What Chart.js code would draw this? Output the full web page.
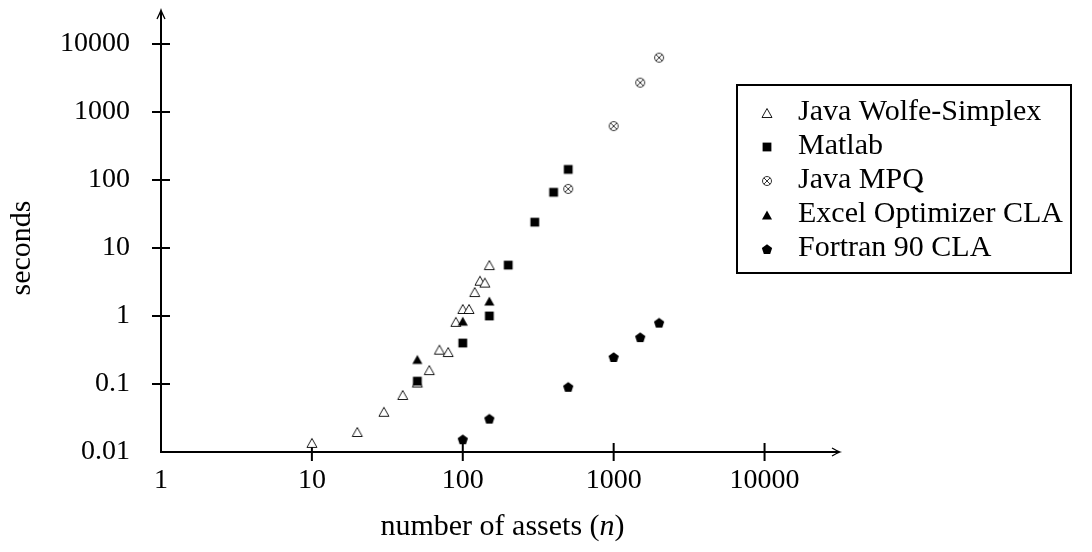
<!DOCTYPE html>
<html>
<head>
<meta charset="utf-8">
<script src="https://cdn.jsdelivr.net/npm/chart.js@4.4.1/dist/chart.umd.min.js"></script>
<style>
  html, body { margin: 0; padding: 0; background: #fff; }
  #wrap { width: 1092px; height: 552px; }
</style>
</head>
<body>
<div id="wrap"><canvas id="timingChart"></canvas></div>
<script>
// axis ticks
const xTicks = [1, 10, 100, 1000, 10000];
const yTicks = [0.01, 0.1, 1, 10, 100, 1000, 10000];

// run times in seconds against number of assets
const wolfeN = [10, 20, 30, 40, 50, 60, 70, 80, 90, 100, 110, 120, 130, 140, 150];
const wolfeSec = [0.0136, 0.0197, 0.039, 0.069, 0.105, 0.16, 0.32, 0.295, 0.82, 1.27, 1.27, 2.25, 3.3, 3.1, 5.6];

const matlabN = [50, 100, 150, 200, 300, 400, 500];
const matlabSec = [0.11, 0.40, 1.0, 5.6, 24, 66, 143];

const mpqN = [500, 1000, 1500, 2000];
const mpqSec = [74, 620, 2700, 6300];

const excelN = [50, 100, 150];
const excelSec = [0.23, 0.84, 1.66];

const fortranN = [100, 150, 500, 1000, 1500, 2000];
const fortranSec = [0.0154, 0.031, 0.091, 0.25, 0.49, 0.80];

const seriesNames = ['Java Wolfe-Simplex', 'Matlab', 'Java MPQ', 'Excel Optimizer CLA', 'Fortran 90 CLA'];

// markers as small canvases, used for points and legend
function marker(kind) {
    const c = document.createElement('canvas');
    c.width = 14; c.height = 14;
    const g = c.getContext('2d');
    const m = 7;
    g.fillStyle = '#000';
    g.strokeStyle = '#000';
    g.lineWidth = 1;
    g.beginPath();
    if (kind === 'openTri' || kind === 'tri') {
        g.moveTo(m, m - 4.5);
        g.lineTo(m + 5, m + 4.5);
        g.lineTo(m - 5, m + 4.5);
        g.closePath();
        if (kind === 'openTri') {
            g.fillStyle = '#fff';
            g.fill();
            g.lineWidth = 0.9;
            g.stroke();
        } else {
            g.fill();
        }
    } else if (kind === 'square') {
        g.rect(m - 4.4, m - 4.4, 8.8, 8.8);
        g.fill();
    } else if (kind === 'otimes') {
        g.strokeStyle = '#333';
        g.arc(m, m, 4.5, 0, Math.PI * 2);
        const d = 3.2;
        g.moveTo(m - d, m - d); g.lineTo(m + d, m + d);
        g.moveTo(m + d, m - d); g.lineTo(m - d, m + d);
        g.stroke();
    } else if (kind === 'pent') {
        const r = 5.4;
        for (let i = 0; i < 5; i++) {
            const a = -Math.PI / 2 + i * 2 * Math.PI / 5;
            const px = m + r * Math.cos(a), py = m + 0.6 + r * Math.sin(a);
            if (i === 0) g.moveTo(px, py); else g.lineTo(px, py);
        }
        g.closePath();
        g.fill();
    }
    return c;
}

const markers = [marker('openTri'), marker('square'), marker('otimes'), marker('tri'), marker('pent')];

function pairs(xs, ys) {
    return xs.map((v, i) => ({ x: v, y: ys[i] }));
}

const serif = "'Liberation Serif', 'DejaVu Serif', serif";

const axesPlugin = {
    id: 'arrowAxes',
    beforeDatasetsDraw(chart) {
        const { ctx, chartArea: a, scales: { x, y } } = chart;
        const x0 = x.getPixelForValue(xTicks[0]);
        const y0 = y.getPixelForValue(yTicks[0]);
        ctx.save();
        ctx.strokeStyle = '#000';
        ctx.lineWidth = 2;
        ctx.beginPath();
        ctx.moveTo(a.right - 1, y0);
        ctx.lineTo(x0, y0);
        ctx.lineTo(x0, a.top + 1);
        ctx.stroke();
        // ticks crossing the axes
        ctx.beginPath();
        xTicks.slice(1).forEach(v => {
            const px = x.getPixelForValue(v);
            ctx.moveTo(px, y0 - 9);
            ctx.lineTo(px, y0 + 9);
        });
        yTicks.slice(1).forEach(v => {
            const py = y.getPixelForValue(v);
            ctx.moveTo(x0 - 9, py);
            ctx.lineTo(x0 + 9, py);
        });
        ctx.stroke();
        // arrow heads
        ctx.lineWidth = 1.3;
        ctx.beginPath();
        ctx.moveTo(a.right - 8, y0 - 4);
        ctx.quadraticCurveTo(a.right - 3, y0 - 1, a.right, y0);
        ctx.quadraticCurveTo(a.right - 3, y0 + 1, a.right - 8, y0 + 4);
        ctx.moveTo(x0 - 4, a.top + 9);
        ctx.quadraticCurveTo(x0 - 1, a.top + 3, x0, a.top);
        ctx.quadraticCurveTo(x0 + 1, a.top + 3, x0 + 4, a.top + 9);
        ctx.stroke();
        ctx.restore();
    },
    afterDraw(chart) {
        const { ctx, chartArea: a, scales: { y } } = chart;
        ctx.save();
        ctx.fillStyle = '#000';

        // y title
        const yMid = (y.getPixelForValue(yTicks[0]) + y.getPixelForValue(yTicks[yTicks.length - 1])) / 2;
        ctx.font = '30px ' + serif;
        ctx.textAlign = 'center';
        ctx.textBaseline = 'middle';
        ctx.translate(22, yMid);
        ctx.rotate(-Math.PI / 2);
        ctx.fillText('seconds', 0, 0);
        ctx.setTransform(1, 0, 0, 1, 0, 0);

        // x title with italic n
        const parts = [['number of assets (', '30px '], ['n', 'italic 30px '], [')', '30px ']];
        let total = 0;
        parts.forEach(p => { ctx.font = p[1] + serif; total += ctx.measureText(p[0]).width; });
        let tx = (a.left + a.right) / 2 + 2 - total / 2;
        ctx.textAlign = 'left';
        parts.forEach(p => {
            ctx.font = p[1] + serif;
            ctx.fillText(p[0], tx, 527);
            tx += ctx.measureText(p[0]).width;
        });

        // legend
        const lx = 737, ly = 85, lw = 334, lh = 188;
        ctx.lineWidth = 2;
        ctx.strokeStyle = '#000';
        ctx.strokeRect(lx, ly, lw, lh);
        ctx.font = '30px ' + serif;
        seriesNames.forEach((name, i) => {
            const ry = 113 + 34 * i;
            ctx.drawImage(markers[i], 767 - 7, ry - 7);
            ctx.fillText(name, 798, ry - 1);
        });
        ctx.restore();
    }
};

const ctx = document.getElementById('timingChart').getContext('2d');
new Chart(ctx, {
    type: 'scatter',
    data: {
        datasets: [
            { label: seriesNames[0], data: pairs(wolfeN, wolfeSec), pointStyle: markers[0], order: 5 },
            { label: seriesNames[1], data: pairs(matlabN, matlabSec), pointStyle: markers[1], order: 4 },
            { label: seriesNames[2], data: pairs(mpqN, mpqSec), pointStyle: markers[2], order: 3 },
            { label: seriesNames[3], data: pairs(excelN, excelSec), pointStyle: markers[3], order: 2 },
            { label: seriesNames[4], data: pairs(fortranN, fortranSec), pointStyle: markers[4], order: 1 }
        ]
    },
    options: {
        responsive: true,
        maintainAspectRatio: false,
        animation: false,
        layout: { padding: { top: 10, right: 252, left: 0, bottom: 0 } },
        plugins: {
            legend: { display: false },
            tooltip: { enabled: false }
        },
        scales: {
            x: {
                type: 'logarithmic',
                min: 1,
                max: 31622.78,
                grid: { display: false, drawTicks: false, tickLength: 0 },
                border: { display: false },
                ticks: {
                    color: '#000',
                    padding: 12,
                    maxRotation: 0,
                    font: { family: serif, size: 28 },
                    callback: v => String(v)
                },
                afterBuildTicks: s => { s.ticks = xTicks.map(v => ({ value: v })); },
                afterFit: s => {
                    s.height = 100;
                    s.paddingLeft = 0; s.paddingRight = 0;
                }
            },
            y: {
                type: 'logarithmic',
                min: 0.01,
                max: 31622.78,
                grid: { display: false, drawTicks: false, tickLength: 0 },
                border: { display: false },
                ticks: {
                    color: '#000',
                    padding: 31,
                    font: { family: serif, size: 28 },
                    callback: v => String(v)
                },
                afterBuildTicks: s => { s.ticks = yTicks.map(v => ({ value: v })); },
                afterFit: s => {
                    s.width = 161;
                    s.paddingTop = 0; s.paddingBottom = 0;
                }
            }
        }
    },
    plugins: [axesPlugin]
});
</script>
</body>
</html>
